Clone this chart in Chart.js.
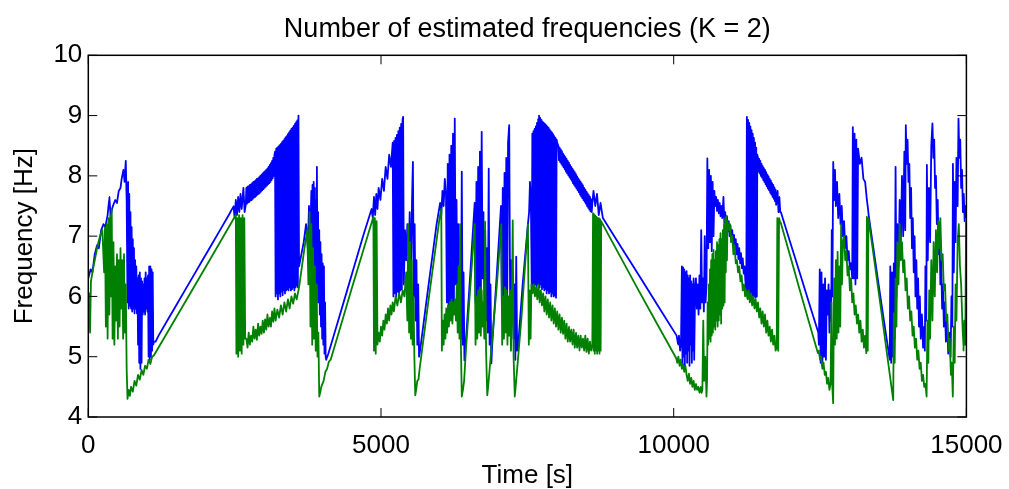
<!DOCTYPE html>
<html>
<head>
<meta charset="utf-8">
<title>Number of estimated frequencies (K = 2)</title>
<script src="https://cdn.jsdelivr.net/npm/chart.js@4.4.1/dist/chart.umd.min.js"></script>
<style>
  body { margin: 0; background: #fff; }
</style>
</head>
<body>
<canvas id="grafica" width="1009" height="489"></canvas>
<script>
var timeTicks = [0, 5000, 10000, 15000];
var freqTicks = [4, 5, 6, 7, 8, 9, 10];

// [time s, frequency Hz] - upper estimate (blue)
var blueSeries = [
  [0,6.3],[40,6.45],[70,6.4],[110,6.7],[150,6.85],[180,6.8],[220,7.1],[260,7.2],[290,7.15],[330,7.35],[360,7.65],[380,7.35],[420,7.5],[460,7.6],[490,7.55],[520,7.75],[550,7.8],[570,7.95],[600,8.1],[620,7.9],[640,8.25],[655,7.6],
  [670,5.9],[680,7.9],[690,5.8],[700,7.7],[710,5.85],[720,7.4],[730,5.8],[740,7.15],[750,5.75],[760,6.95],[770,5.8],[780,6.8],[790,5.72],[800,6.6],[810,5.8],[820,6.5],[830,5.72],[840,6.3],[850,5.2],[860,6.35],[870,4.9],[880,6.4],[890,4.8],[900,6.3],[910,4.9],[920,6.25],[930,5.7],[940,6.2],[950,5.75],[960,6.3],[970,5.7],[980,6.4],[990,5.8],[1000,6.3],[1010,5.75],[1020,6.35],[1030,5.0],[1040,6.5],[1050,4.95],[1060,6.5],[1070,5.0],[1080,6.45],[1090,5.1],[1100,6.4],[1110,5.2],[1120,5.25],
  [1150,5.25],[1200,5.35],[1500,5.85],[1800,6.35],[2100,6.85],[2400,7.35],[2480,7.5],
  [2500,7.3],[2520,7.6],[2540,7.35],[2560,7.65],[2580,7.4],[2600,7.7],[2620,7.45],[2650,7.8],[2670,7.4],
  [2690,7.52],[2700,7.8],[2710,7.54],[2720,7.82],[2730,7.56],[2740,7.83],[2750,7.57],[2760,7.85],[2770,7.59],[2780,7.86],[2790,7.6],[2800,7.88],[2810,7.62],[2820,7.9],[2830,7.64],[2840,7.91],[2850,7.65],[2860,7.93],[2870,7.67],[2880,7.95],[2890,7.69],[2900,7.96],[2910,7.7],[2920,7.98],[2930,7.72],[2940,8.0],[2950,7.74],[2960,8.02],[2970,7.76],[2980,8.04],[2990,7.78],[3000,8.06],[3010,7.8],[3020,8.08],[3030,7.82],[3040,8.1],[3050,7.84],[3060,8.12],[3070,7.86],[3080,8.15],[3090,7.88],[3100,8.18],[3110,7.9],[3120,8.21],[3130,7.93],[3140,8.25],[3150,7.96],[3160,8.3],[3170,8.0],[3180,8.35],[3190,8.4],
  [3200,6.0],[3210,8.45],[3220,6.05],[3230,8.47],[3240,5.95],[3250,8.49],[3260,6.05],[3270,8.51],[3280,6.0],[3290,8.53],[3300,6.08],[3310,8.56],[3320,6.02],[3330,8.58],[3340,6.1],[3350,8.61],[3360,6.05],[3370,8.64],[3380,6.1],[3390,8.66],[3400,6.12],[3410,8.69],[3420,6.1],[3430,8.72],[3440,6.15],[3450,8.75],[3460,6.1],[3470,8.78],[3480,6.12],[3490,8.8],[3500,6.15],[3510,8.83],[3520,6.1],[3530,8.86],[3540,6.15],[3550,8.89],[3560,6.18],[3570,8.92],[3580,6.15],[3590,9.0],
  [3600,6.5],[3640,6.7],[3680,6.9],[3720,7.2],[3750,6.8],[3770,7.5],[3790,6.9],[3810,7.75],[3820,6.7],[3830,7.85],[3840,6.5],[3850,7.9],[3860,6.3],[3870,7.8],[3880,6.0],[3890,7.6],[3900,5.9],[3905,8.15],[3915,6.2],[3925,7.4],[3935,5.9],[3945,7.1],[3955,5.7],[3965,6.9],[3975,5.5],[3985,6.7],[3995,5.3],[4005,6.55],[4015,5.2],[4025,6.5],[4035,5.05],[4045,5.9],[4055,5.0],[4065,4.95],
  [4070,4.97],[4100,5.05],[4400,6.03],[4700,7.02],[4840,7.45],
  [4860,7.3],[4880,7.65],[4900,7.35],[4920,7.7],[4940,7.45],[4960,7.8],[4990,7.6],[5020,7.95],[5050,7.75],[5080,8.15],[5110,7.95],[5140,8.35],[5170,8.15],[5200,8.55],
  [5212,6.0],[5224,8.58],[5236,6.05],[5248,8.63],[5260,6.0],[5272,8.68],[5284,6.08],[5296,8.74],[5308,6.05],[5320,8.8],[5332,6.1],[5344,8.86],[5356,6.12],[5368,8.93],[5378,8.98],
  [5390,6.2],[5410,7.1],[5430,6.6],[5450,7.2],[5470,6.4],[5490,7.4],[5510,6.2],[5530,7.6],[5545,8.23],[5560,6.0],[5575,7.2],[5590,5.6],[5605,6.6],[5620,5.2],[5635,6.2],[5650,5.0],
  [5660,5.05],[5800,6.1],[5950,7.2],[6010,7.55],[6030,7.35],[6050,7.75],[6070,7.5],[6090,7.95],[6110,7.7],[6125,5.9],[6140,8.2],[6155,5.8],[6170,8.35],[6185,5.75],[6200,8.5],[6215,5.8],[6230,8.7],[6245,5.75],[6260,8.95],
  [6275,6.2],[6290,7.6],[6305,5.8],[6320,7.2],[6335,5.5],[6350,7.0],[6365,5.3],[6380,8.07],[6395,5.2],[6410,6.4],[6425,4.94],
  [6440,5.1],[6520,6.3],[6600,7.55],[6615,5.9],[6630,7.9],[6645,5.8],[6660,8.15],[6675,5.7],[6690,8.4],[6705,5.75],[6720,8.73],
  [6735,6.3],[6750,7.4],[6765,5.9],[6780,7.1],[6795,5.6],[6810,6.8],[6825,5.4],[6840,8.12],[6855,5.2],[6870,6.2],[6885,4.89],
  [6900,5.2],[6980,6.4],[7050,7.5],[7065,5.8],[7080,7.8],[7095,5.7],[7110,8.05],[7125,5.75],[7140,8.3],[7155,5.7],[7170,8.55],[7190,8.84],
  [7205,6.0],[7220,6.6],[7235,5.6],[7250,6.4],[7265,5.3],[7280,6.2],[7295,4.95],[7310,6.66],[7325,5.1],
  [7340,5.15],[7420,6.2],[7510,7.2],[7530,7.4],[7545,7.9],[7560,7.6],
  [7575,6.15],[7585,8.7],[7595,6.2],[7605,8.74],[7615,6.18],[7625,8.78],[7635,6.2],[7645,8.82],[7655,6.15],[7665,8.88],[7675,6.2],[7685,8.94],[7695,6.18],[7700,9.0],[7710,6.15],[7720,8.96],[7730,6.2],[7740,8.93],[7750,6.12],[7760,8.9],[7770,6.15],[7780,8.88],[7790,6.1],[7800,8.86],[7810,6.12],[7820,8.84],[7830,6.05],[7840,8.82],[7850,6.1],[7860,8.8],[7870,6.05],[7880,8.77],[7890,6.08],[7900,8.74],[7910,6.0],[7920,8.72],[7930,6.05],[7940,8.69],[7950,6.0],[7960,8.66],[7970,6.02],[7980,8.63],[7990,5.98],[8000,8.6],[8010,8.55],
  [8030,8.5],[8040,8.26],[8050,8.47],[8060,8.23],[8070,8.44],[8080,8.2],[8090,8.41],[8100,8.17],[8110,8.37],[8120,8.14],[8130,8.34],[8140,8.11],[8150,8.31],[8160,8.07],[8170,8.28],[8180,8.04],[8190,8.25],[8200,8.01],[8210,8.22],[8220,7.98],[8230,8.18],[8240,7.95],[8250,8.15],[8260,7.92],[8270,8.12],[8280,7.88],[8290,8.09],[8300,7.85],[8310,8.06],[8320,7.82],[8330,8.03],[8340,7.79],[8350,7.99],[8360,7.76],[8370,7.96],[8380,7.73],[8390,7.93],[8400,7.69],[8410,7.9],[8420,7.66],[8430,7.87],[8440,7.63],[8450,7.84],[8460,7.6],[8470,7.8],[8480,7.57],[8490,7.77],[8500,7.54],[8510,7.74],[8520,7.5],[8530,7.71],[8540,7.47],[8550,7.68],[8560,7.44],[8570,7.65],[8580,7.41],[8590,7.61],[8600,7.4],[8610,7.55],
  [8630,7.75],[8660,7.5],[8690,7.7],[8720,7.35],[8750,7.55],[8790,7.3],
  [9400,6.36],[10050,5.35],
  [10075,5.2],[10090,5.35],[10110,5.1],[10125,5.25],
  [10140,6.5],[10150,4.9],[10160,6.48],[10170,5.0],[10180,6.45],[10190,4.85],[10200,6.4],[10210,5.05],[10220,6.42],[10230,4.9],[10240,6.35],[10250,5.1],[10260,6.3],[10270,4.85],[10280,6.35],[10290,5.2],[10300,6.25],[10310,4.9],[10320,6.2],[10330,5.1],[10340,6.3],[10350,4.95],[10365,6.1],
  [10380,6.3],[10395,5.8],[10410,6.2],[10425,5.7],[10440,6.35],[10455,5.8],[10470,7.1],[10485,5.9],[10500,6.3],[10515,5.75],[10530,7.0],[10545,5.9],[10560,6.2],
  [10575,8.29],[10590,6.8],[10605,8.1],[10620,6.9],[10635,8.0],[10650,6.75],[10665,7.9],[10680,7.0],[10695,7.75],
  [10710,7.5],[10725,7.65],[10740,7.42],[10755,7.6],[10770,7.38],[10785,7.55],[10800,7.33],[10815,7.5],[10830,7.3],[10850,7.65],[10865,7.22],[10880,7.4],[10895,7.15],[10910,7.33],[10925,7.08],[10940,7.25],[10955,7.0],[10970,7.18],[10985,6.92],[11000,7.1],[11015,6.85],[11030,7.02],[11045,6.78],[11060,6.95],[11075,6.7],[11090,6.87],[11105,6.62],[11120,6.8],[11135,6.55],[11150,6.72],[11165,6.47],[11180,6.63],[11195,6.38],[11210,6.5],[11225,6.25],[11240,6.1],
  [11250,8.98],[11260,6.05],[11270,8.93],[11280,6.0],[11290,8.88],[11300,6.05],[11310,8.82],[11320,5.98],[11330,8.76],[11340,6.02],[11350,8.7],[11360,5.95],[11370,8.63],[11380,6.0],[11390,8.55],[11400,5.98],[11410,8.47],[11420,6.0],[11428,8.35],
  [11440,8.3],[11450,8.07],[11460,8.28],[11470,8.04],[11480,8.25],[11490,8.0],[11500,8.2],[11510,7.97],[11520,8.16],[11530,7.93],[11540,8.13],[11550,7.9],[11560,8.1],[11570,7.86],[11580,8.06],[11590,7.83],[11600,8.02],[11610,7.79],[11620,7.99],[11630,7.76],[11640,7.95],[11650,7.72],[11660,7.92],[11670,7.69],[11680,7.88],[11690,7.65],[11700,7.85],[11710,7.62],[11720,7.81],[11730,7.58],[11740,7.77],[11750,7.52],[11760,7.6],[11775,7.75],[11790,7.4],[11805,7.65],[11820,7.4],
  [11830,7.4],[12150,6.4],[12470,5.4],
  [12480,5.2],[12495,6.45],[12510,4.9],[12525,6.4],[12540,4.85],[12555,6.2],[12570,5.0],[12585,6.3],[12600,4.95],[12615,6.1],[12630,5.7],[12645,6.2],[12660,5.4],[12675,6.1],[12690,5.6],[12700,7.1],[12710,6.0],[12725,8.23],
  [12740,7.6],[12755,8.1],[12770,7.5],[12790,7.9],[12810,7.3],[12830,7.7],[12850,7.2],[12870,7.5],[12890,7.0],[12910,7.25],[12930,6.8],[12950,7.0],[12970,6.6],[12990,6.75],[13010,6.45],[13030,6.55],[13050,6.3],
  [13060,8.81],[13075,6.3],[13090,8.7],[13105,6.2],[13120,8.6],[13135,6.3],[13150,8.45],[13180,8.2],[13210,8.3],[13240,7.95],[13270,7.9],[13300,7.6],[13320,7.45],
  [13330,7.35],[13500,6.2],[13690,4.95],
  [13700,6.5],[13715,4.9],[13730,6.4],[13745,5.0],[13760,6.55],[13775,5.3],[13790,8.15],[13805,6.0],[13820,7.2],[13840,6.5],[13860,7.6],[13880,6.9],[13900,8.0],[13920,7.0],[13940,8.4],[13955,7.1],[13965,8.84],
  [13980,8.2],[13995,8.6],[14010,7.9],[14025,8.2],[14040,7.3],[14055,7.8],[14070,6.8],[14085,7.3],[14100,6.4],[14115,7.0],[14130,6.0],[14145,6.6],[14160,5.8],[14175,6.3],[14190,5.5],[14205,6.0],[14220,5.3],[14240,5.7],[14260,5.15],[14280,5.5],[14290,5.1],
  [14300,6.5],[14315,5.6],[14325,8.18],[14340,6.6],[14360,7.8],[14380,6.9],[14400,8.5],[14420,8.87],
  [14435,8.3],[14450,8.6],[14465,7.8],[14480,8.0],[14495,7.2],[14510,7.6],[14525,6.7],[14540,7.1],[14555,6.2],[14570,6.6],[14585,5.8],[14600,6.2],[14615,5.5],[14630,5.9],[14650,5.25],[14670,5.6],[14690,5.05],[14710,5.4],[14730,5.0],
  [14745,6.0],[14760,5.5],[14770,8.2],[14785,6.4],[14800,7.9],[14815,6.9],[14830,8.3],[14850,7.5],[14865,8.95],
  [14880,8.3],[14895,8.6],[14910,7.8],[14925,8.1],[14940,7.4],[14955,7.7],[14970,7.25],[14985,7.5],[15000,7.3]
];

// [time s, frequency Hz] - lower estimate (green)
var greenSeries = [
  [0,5.9],[15,6.05],[30,5.4],[45,6.25],[80,6.45],[120,6.65],[160,6.85],[200,7.0],[240,7.1],[270,6.4],[285,7.15],[300,5.5],[315,7.2],[330,5.3],[345,7.3],[360,5.7],[375,7.35],[390,6.0],[400,7.45],[415,5.3],[430,6.9],[445,5.2],[460,6.5],[475,5.6],[490,6.7],[505,5.3],[520,6.6],[535,5.5],[550,6.8],[565,5.8],[580,6.6],[595,5.3],[610,6.7],[625,5.4],[640,6.2],[655,4.8],[670,4.3],
  [690,4.45],[710,4.35],[730,4.5],[760,4.42],[790,4.6],[820,4.52],[850,4.7],[880,4.62],[910,4.78],[940,4.7],[970,4.85],[1000,4.8],[1030,4.95],[1060,4.88],[1090,5.0],[1120,5.02],[1500,5.65],[2000,6.48],[2520,7.35],
  [2530,5.05],[2545,7.3],[2560,5.0],[2575,7.35],[2590,5.1],[2605,7.3],[2620,5.05],[2635,7.35],[2650,5.2],[2665,7.3],[2680,5.3],
  [2700,5.3],[2720,5.15],[2740,5.4],[2760,5.2],[2780,5.35],[2800,5.25],[2820,5.5],[2840,5.3],[2860,5.45],[2880,5.28],[2900,5.55],[2920,5.35],[2940,5.5],[2960,5.38],[2980,5.6],[3000,5.4],[3020,5.62],[3040,5.45],[3060,5.7],[3080,5.5],[3100,5.65],[3120,5.5],[3140,5.75],[3160,5.58],[3180,5.8],[3200,5.6],[3230,5.78],[3260,5.65],[3290,5.85],[3320,5.7],[3350,5.9],[3380,5.75],[3410,5.95],[3440,5.8],[3470,6.0],[3500,5.88],[3530,6.05],[3560,5.95],[3590,6.1],
  [3600,6.15],[3650,6.5],[3700,6.85],[3740,7.1],[3760,6.2],[3780,7.4],[3795,5.5],[3810,7.2],[3825,5.2],[3840,6.8],[3855,5.3],[3870,6.5],[3885,5.1],[3900,6.2],[3915,5.0],[3930,5.4],[3945,4.34],
  [3960,4.4],[3980,4.5],[4000,4.55],[4020,4.6],[4050,4.75],[4080,4.8],[4110,4.92],[4140,4.95],[4500,6.13],[4870,7.32],
  [4880,5.1],[4895,7.3],[4910,5.05],[4925,7.25],[4940,5.2],[4960,5.4],[4980,5.25],[5000,5.5],[5020,5.35],[5040,5.6],[5060,5.45],[5080,5.7],[5100,5.55],[5120,5.8],[5140,5.6],[5160,5.85],[5180,5.7],[5200,5.9],[5220,5.75],[5250,6.0],[5280,5.85],[5310,6.05],[5340,5.9],[5370,6.1],[5400,6.0],[5430,6.4],[5450,5.6],[5465,7.2],[5480,5.4],[5495,6.9],[5510,5.3],[5525,6.6],[5540,5.2],[5555,6.0],[5570,5.0],[5585,4.36],
  [5600,4.45],[5620,4.6],[5640,4.62],[5660,4.8],[5800,5.85],[6000,7.3],[6030,7.45],
  [6040,5.1],[6055,5.6],[6070,5.2],[6085,5.7],[6100,5.3],[6115,5.8],[6130,5.4],[6145,5.85],[6160,5.5],[6175,5.9],[6190,5.6],[6205,5.95],[6220,5.55],[6235,5.9],[6250,5.7],[6265,5.95],[6280,5.6],[6295,6.2],[6310,5.4],[6325,6.5],[6340,5.3],[6350,7.2],[6365,5.2],[6380,4.34],
  [6400,4.45],[6420,4.6],[6450,5.1],[6500,5.8],[6550,6.5],[6600,7.2],[6615,5.2],[6630,6.0],[6645,5.3],[6660,6.1],[6675,5.4],[6690,6.15],[6705,5.35],[6720,6.1],[6735,5.5],[6750,5.9],[6765,5.3],[6778,7.24],[6795,5.1],[6815,4.36],
  [6830,4.5],[6900,5.3],[6980,6.2],[7055,7.2],[7070,5.2],[7085,6.0],[7100,5.3],[7115,6.15],[7130,5.4],[7145,6.1],[7160,5.2],[7175,6.0],[7190,5.35],[7205,6.1],[7220,5.1],[7235,5.8],[7250,7.26],[7265,5.0],[7285,4.34],
  [7300,4.5],[7400,5.65],[7510,7.2],[7525,5.2],[7540,6.1],[7555,5.3],[7570,6.2],
  [7590,6.05],[7610,6.2],[7630,6.0],[7650,6.15],[7670,5.95],[7690,6.2],[7710,5.9],[7730,6.1],[7750,5.85],[7770,6.05],[7790,5.75],[7810,6.0],[7830,5.7],[7850,5.95],[7870,5.65],[7890,5.9],[7910,5.6],[7930,5.85],[7950,5.55],[7970,5.8],[7990,5.5],[8010,5.75],[8030,5.45],[8050,5.7],[8070,5.4],[8090,5.65],[8110,5.38],[8130,5.6],[8150,5.3],[8170,5.55],[8190,5.25],[8210,5.5],[8230,5.25],[8250,5.45],[8270,5.2],[8290,5.45],[8310,5.15],[8330,5.4],[8350,5.15],[8370,5.35],[8390,5.1],[8410,5.35],[8430,5.15],[8450,5.3],[8470,5.1],[8490,5.35],[8510,5.08],[8530,5.3],[8550,5.05],[8570,5.25],[8590,5.1],[8610,5.2],
  [8622,7.38],[8632,5.1],[8642,7.36],[8652,5.05],[8662,7.34],[8672,5.1],[8682,7.32],[8692,5.05],[8702,7.3],[8712,5.1],[8722,7.3],[8732,5.05],[8742,7.28],[8752,5.1],[8762,7.25],[8775,7.22],[9400,6.1],[10045,4.97],
  [10060,4.9],[10080,5.0],[10100,4.85],[10120,4.95],[10140,4.8],[10160,4.88],[10180,4.75],[10200,4.85],[10220,4.7],[10240,4.6],[10260,4.72],[10280,4.55],[10300,4.65],[10320,4.5],[10340,4.6],[10360,4.45],[10380,4.55],[10400,4.45],[10420,4.5],[10440,4.4],[10460,4.5],[10475,4.4],[10490,4.45],[10505,5.6],[10520,4.6],[10540,5.0],[10560,4.34],
  [10570,4.6],[10580,5.9],[10590,5.2],[10600,6.2],[10610,5.3],[10620,6.45],[10630,5.25],[10640,6.6],[10650,5.35],[10660,6.7],[10670,5.4],[10680,6.77],[10690,5.5],[10700,6.6],[10710,5.45],[10720,6.75],[10730,5.6],[10740,6.9],[10750,5.5],[10760,6.85],[10770,5.6],[10780,6.95],[10790,5.7],[10800,7.05],[10810,5.55],[10820,6.95],[10830,5.8],[10840,7.1],[10850,5.85],[10860,7.2],[10870,5.9],[10880,7.3],[10890,6.4],[10900,7.32],[10910,6.6],[10920,7.25],
  [10940,7.1],[10960,7.2],[10980,6.9],[11000,7.0],[11020,6.7],[11040,6.85],[11060,6.55],[11080,6.6],[11100,6.4],[11120,6.5],[11140,6.25],[11160,6.35],[11180,6.1],[11200,6.2],[11220,6.0],[11240,6.1],
  [11260,5.95],[11280,6.1],[11300,5.9],[11320,6.05],[11340,5.85],[11360,6.0],[11380,5.8],[11400,5.95],[11420,5.75],[11440,5.9],[11460,5.65],[11480,5.8],[11500,5.55],[11520,5.75],[11540,5.5],[11560,5.7],[11580,5.4],[11600,5.6],[11620,5.35],[11640,5.5],[11660,5.25],[11680,5.45],[11700,5.2],[11720,5.35],[11740,5.1],[11760,5.15],
  [11770,7.3],[11785,5.1],[11800,7.3],[11815,7.24],
  [11830,7.22],[12150,6.12],[12463,5.06],
  [12480,5.1],[12500,4.95],[12520,5.0],[12540,4.8],[12560,4.9],[12580,4.7],[12600,4.75],[12620,4.55],[12640,4.65],[12660,4.45],[12680,4.55],[12695,5.9],[12710,4.5],[12724,4.23],[12740,6.3],[12755,5.2],[12770,6.6],[12785,5.3],[12800,6.74],[12815,5.4],[12830,6.5],[12845,5.5],[12860,7.2],[12875,6.2],
  [12890,6.9],[12910,7.0],[12930,6.6],[12950,6.75],[12970,6.35],[12990,6.5],[13010,6.1],[13030,6.3],[13050,5.9],[13070,6.05],[13090,5.7],[13110,5.85],[13130,5.55],[13150,5.7],[13170,5.4],[13190,5.6],[13210,5.25],[13230,5.45],[13250,5.15],[13270,5.35],[13290,5.06],
  [13300,7.32],[13315,5.1],[13325,7.3],
  [13330,7.28],[13540,5.8],[13750,4.28],
  [13760,5.72],[13775,4.9],[13790,6.3],[13805,5.5],[13820,6.9],[13840,6.2],[13860,7.2],[13880,6.6],[13900,6.9],[13920,6.4],[13940,6.6],[13960,6.1],[13980,6.3],[14000,5.8],[14020,6.0],[14040,5.6],[14060,5.75],[14080,5.35],[14100,5.5],[14120,5.15],[14140,5.3],[14160,4.95],[14180,5.1],[14200,4.8],[14220,4.9],[14240,4.6],[14260,4.7],[14280,4.5],[14300,4.55],[14320,4.34],
  [14335,5.6],[14350,4.9],[14365,6.1],[14380,5.3],[14400,6.6],[14420,5.6],[14440,6.9],[14460,6.0],[14480,7.1],[14500,6.4],[14520,7.25],[14540,6.8],[14555,7.3],[14575,6.6],[14595,6.7],[14615,6.1],[14635,6.2],[14655,5.6],[14675,5.7],[14695,5.1],[14715,5.3],[14735,4.7],[14750,4.9],[14768,4.34],
  [14785,5.5],[14800,4.9],[14815,6.2],[14830,5.6],[14850,6.9],[14870,7.2],[14890,6.5],[14910,6.2],[14930,5.6],[14950,5.1],[14965,5.6],[14980,5.2],[14995,7.24],[15000,7.24]
];

var fuente = "'Liberation Sans', Arial, Helvetica, sans-serif";

function aPuntos(serie) {
  return serie.map(p => ({ x: p[0], y: p[1] }));
}

// box round the plot area with inward tick marks on all four sides
var cajaPlugin = {
  id: 'caja',
  afterDatasetsDraw(chart) {
    var ctx = chart.ctx;
    var a = chart.chartArea;
    var xs = chart.scales.x;
    var ys = chart.scales.y;
    ctx.save();
    ctx.strokeStyle = '#000';
    ctx.lineWidth = 1;
    ctx.beginPath();
    timeTicks.forEach(v => {
      var px = xs.getPixelForValue(v);
      ctx.moveTo(px, a.bottom); ctx.lineTo(px, a.bottom - 9);
      ctx.moveTo(px, a.top); ctx.lineTo(px, a.top + 9);
    });
    freqTicks.forEach(v => {
      var py = ys.getPixelForValue(v);
      ctx.moveTo(a.left, py); ctx.lineTo(a.left + 9, py);
      ctx.moveTo(a.right, py); ctx.lineTo(a.right - 9, py);
    });
    ctx.stroke();
    ctx.lineWidth = 1.5;
    ctx.strokeRect(a.left, a.top, a.right - a.left, a.bottom - a.top);
    ctx.restore();
  }
};

var ctx = document.getElementById('grafica').getContext('2d');
var grafica = new Chart(ctx, {
  type: 'line',
  data: {
    datasets: [
      {
        label: 'f1',
        data: aPuntos(blueSeries),
        borderColor: '#0000ff',
        borderWidth: 1.8,
        borderJoinStyle: 'round',
        pointRadius: 0,
        fill: false,
        tension: 0.0001,
        order: 2
      },
      {
        label: 'f2',
        data: aPuntos(greenSeries),
        borderColor: '#008000',
        borderWidth: 1.8,
        borderJoinStyle: 'round',
        pointRadius: 0,
        fill: false,
        tension: 0.0001,
        order: 1
      }
    ]
  },
  options: {
    responsive: false,
    animation: false,
    devicePixelRatio: 1,
    layout: { padding: { left: 0, right: 42.6, top: 0, bottom: 0 } },
    plugins: {
      legend: { display: false },
      tooltip: { enabled: false },
      title: {
        display: true,
        fullSize: false,
        text: 'Number of estimated frequencies (K = 2)',
        color: '#000',
        font: { family: fuente, size: 27, weight: 'normal', lineHeight: 1 },
        padding: { top: 15.8, bottom: 12.5 }
      }
    },
    scales: {
      x: {
        type: 'linear',
        min: 0,
        max: 15000,
        afterBuildTicks: s => { s.ticks = timeTicks.map(v => ({ value: v })); },
        afterFit: s => { s.height = 72; s.paddingLeft = 0; s.paddingRight = 0; },
        grid: { display: false, drawTicks: false },
        border: { display: false },
        ticks: {
          color: '#000',
          font: { family: fuente, size: 26 },
          padding: 13,
          maxRotation: 0,
          autoSkip: false,
          callback: v => String(v)
        },
        title: {
          display: true,
          text: 'Time [s]',
          color: '#000',
          font: { family: fuente, size: 26, lineHeight: 1 },
          padding: { top: 0, bottom: 0 }
        }
      },
      y: {
        type: 'linear',
        min: 4,
        max: 10,
        afterBuildTicks: s => { s.ticks = freqTicks.map(v => ({ value: v })); },
        afterFit: s => { s.width = 88.3; s.paddingTop = 0; s.paddingBottom = 0; },
        grid: { display: false, drawTicks: false },
        border: { display: false },
        ticks: {
          color: '#000',
          font: { family: fuente, size: 26 },
          padding: 6,
          autoSkip: false,
          callback: v => String(v)
        },
        title: {
          display: true,
          text: 'Frequency [Hz]',
          color: '#000',
          font: { family: fuente, size: 26, lineHeight: 1 },
          padding: { top: 12, bottom: 0 }
        }
      }
    }
  },
  plugins: [cajaPlugin]
});
</script>
</body>
</html>
